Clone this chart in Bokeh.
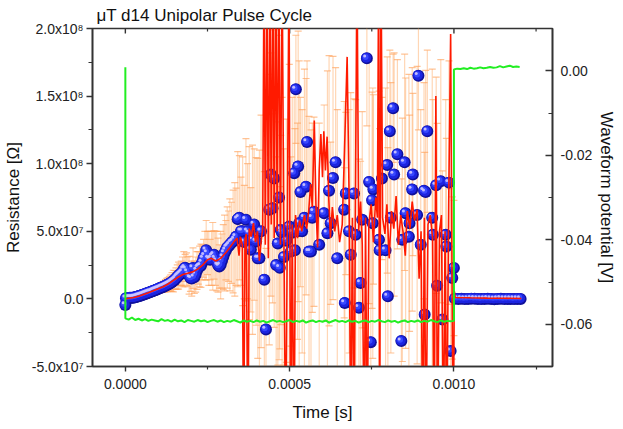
import numpy as np
from bokeh.plotting import figure
from bokeh.models import (Range1d, LinearAxis, FixedTicker, CustomJSTickFormatter,
                          PrintfTickFormatter, ColumnDataSource)
from bokeh.embed import file_html
from bokeh.resources import INLINE

TITLE = "μT d14 Unipolar Pulse Cycle"
X_LABEL = "Time [s]"
Y_LABEL = "Resistance [Ω]"
Y2_LABEL = "Waveform potential [V]"

x_ticks = [0.0, 0.0005, 0.0010]
x_minor = [0.00025, 0.00075, 0.00125]
y_ticks = [-5e7, 0.0, 5e7, 1e8, 1.5e8, 2e8]
y_minor = [-2.5e7, 2.5e7, 7.5e7, 1.25e8, 1.75e8]
y2_ticks = [-0.06, -0.04, -0.02, 0.0]
y2_minor = [-0.07, -0.05, -0.03, -0.01, 0.01]

# Measured resistance: time in microseconds, resistance and error in units of 1e7 ohm
t_ramp = [0, 2, 6, 10, 14, 18, 22, 26, 30, 34,
          38, 42, 46, 50, 54, 58, 62, 66, 70, 74,
          78, 82, 86, 90, 94, 98, 102, 106, 110, 114,
          118, 122, 126, 130, 134, 138, 142, 146, 150, 154,
          158, 162, 166, 170, 174, 178, 182, 186, 190, 194,
          198, 202, 206, 210, 214, 218, 222, 226, 230, 234,
          238, 242, 246, 250, 254, 258, 262, 266, 270, 274,
          278, 282, 286, 290, 294, 298, 302, 306, 310, 314,
          318, 323, 328, 333, 337, 342, 347, 352, 357, 362,
          367, 372, 377, 382, 387, 392, 398, 403, 408, 413]
r_ramp = [-0.45, 0.05, 0.06, 0.07, 0.08, 0.08, 0.09, 0.1, 0.12, 0.15,
          0.18, 0.21, 0.24, 0.28, 0.31, 0.35, 0.38, 0.42, 0.45, 0.49,
          0.52, 0.56, 0.6, 0.64, 0.68, 0.72, 0.76, 0.8, 0.84, 0.88,
          0.92, 0.97, 1.02, 1.07, 1.12, 1.18, 1.25, 1.32, 1.4, 1.5,
          1.62, 1.72, 1.8, 1.9, 2.0, 2.2, 2.3, 2.2, 2.0, 1.75,
          1.55, 1.5, 2.28, 1.6, 1.8, 2.1, 2.3, 2.4, 2.45, 2.7,
          3.0, 3.2, 3.6, 3.4, 3.0, 2.9, 3.0, 3.15, 3.26, 3.0,
          2.8, 2.5, 2.4, 2.5, 2.8, 3.1, 3.4, 3.6, 3.8, 3.9,
          4.0, 4.15, 4.25, 4.4, 4.6, 5.9, 6.0, 5.0, 5.0, 4.2,
          5.85, 5.0, 4.86, 3.63, 4.37, 5.5, 4.25, 3.0, 3.0, 5.0]
e_ramp = [0.15, 0.1, 0.1, 0.1, 0.1, 0.1, 0.1, 0.1, 0.1, 0.1,
          0.12, 0.12, 0.12, 0.15, 0.15, 0.15, 0.15, 0.2, 0.2, 0.2,
          0.2, 0.25, 0.25, 0.25, 0.3, 0.3, 0.3, 0.35, 0.35, 0.4,
          0.4, 0.45, 0.5, 0.5, 0.55, 0.6, 0.7, 0.8, 0.7, 0.8,
          0.9, 1.0, 0.8, 0.9, 1.1, 1.3, 1.0, 1.2, 1.1, 1.4,
          1.0, 1.3, 1.5, 1.2, 1.3, 1.4, 1.2, 1.5, 1.6, 1.3,
          1.4, 1.8, 2.2, 1.6, 2.0, 1.5, 2.0, 2.5, 1.8, 2.0,
          2.2, 2.0, 1.6, 2.5, 2.0, 2.4, 2.8, 2.2, 3.0, 2.6,
          3.4, 3.0, 3.8, 4.2, 3.6, 5.0, 4.6, 4.0, 5.5, 4.2,
          6.0, 5.0, 6.4, 4.6, 7.0, 5.6, 6.2, 7.4, 8.0, 8.6]

t_noisy = [423, 428, 438, 443, 448, 453, 459, 464, 468, 470,
           473, 477, 483, 490, 499, 504, 508, 514, 516, 519,
           524, 526, 529, 533, 538, 545, 550, 553, 559, 565,
           569, 574, 590, 605, 615, 620, 625, 632, 640, 645,
           666, 668, 671, 681, 686, 696, 701, 711, 716, 721,
           735, 742, 747, 751, 753, 755, 772, 774, 781, 792,
           797, 799, 805, 808, 815, 818, 828, 840, 843, 850,
           853, 863, 865, 873, 875, 888, 892, 899, 909, 911,
           914, 919, 934, 936, 946, 949, 960, 965, 975, 977,
           985, 990, 995, 1000]
r_noisy = [1.42, -2.26, 6.6, 9.2, 6.7, 8.9, 2.5, 4.1, 7.5, 2.3,
           5.1, 4.9, 3.1, 4.3, 5.35, 3.5, 4.9, 9.3, 3.6, 15.5,
           5.0, 9.8, 5.6, 7.9, 5.0, 6.0, 8.3, 11.6, 3.5, 3.5,
           6.0, 6.45, 4.0, 6.34, 4.86, 8.0, 5.6, 8.94, 10.1, 3.0,
           6.6, -0.3, 7.8, 5.0, 3.26, 7.8, 4.74, -0.66, 1.18, 5.85,
           17.8, 8.65, -3.2, 7.3, 5.6, 8.1, 4.37, 3.6, 8.9, 3.6,
           9.9, 0.19, 12.4, 6.0, 14.1, 9.2, 10.7, -3.12, 4.37, 10.1,
           6.34, 4.6, 5.6, 8.1, 9.2, 6.2, 16.5, 4.0, 8.0, -1.16,
           7.9, 12.4, 6.0, 4.74, 8.4, 0.98, 8.7, -1.53, 4.74, 3.88,
           8.6, -3.86, 1.55, 2.28]
e_noisy = [8, 6, 10, 9, 7, 11, 8, 9, 12, 6,
           7, 10, 8, 9, 12, 7, 10, 6, 9, 4,
           8, 10, 12, 7, 9, 11, 8, 6, 10, 9,
           7, 7, 9, 8, 12, 10, 6, 9, 7, 11,
           8, 10, 6, 9, 12, 7, 10, 11, 9, 8,
           5, 9, 12, 8, 10, 7, 11, 9, 6, 12,
           8, 11, 6, 10, 4, 9, 7, 12, 9, 8,
           10, 12, 8, 9, 6, 11, 4, 10, 8, 12,
           9, 6, 11, 10, 8, 12, 9, 11, 10, 8,
           9, 12, 6, 5]

t_flat = [1003, 1013, 1023, 1033, 1043, 1053, 1063, 1073, 1083, 1093,
          1103, 1113, 1123, 1133, 1143, 1153, 1163, 1173, 1183, 1193, 1203]
r_flat = [0.02, 0.0, 0.01, -0.01, 0.0, 0.02, 0.01, 0.0, -0.01, 0.0,
          0.01, 0.0, -0.02, 0.0, 0.01, -0.01, 0.0, 0.0, -0.01, 0.0, 0.0]
e_flat = [0.3, 0.2, 0.2, 0.15, 0.15, 0.15, 0.12, 0.12, 0.12, 0.1,
          0.1, 0.1, 0.1, 0.1, 0.1, 0.1, 0.1, 0.1, 0.1, 0.1, 0.1]

# Red smoothed curve: time in microseconds, resistance in 1e7 ohm
t_fit = [0, 10, 25, 40, 55, 70, 85, 100, 115, 130,
         145, 160, 175, 190, 205, 220, 235, 250, 262, 275,
         290, 305, 318, 330, 340, 346, 350, 356, 360, 364,
         368, 373, 377, 383, 390, 396, 402, 408, 412, 418,
         422, 426, 431, 435, 440, 444, 449, 453, 458, 462,
         467, 472, 477, 482, 488, 493, 498, 503, 508, 513,
         518, 524, 530, 537, 545, 552, 558, 564, 569, 575,
         580, 585, 590, 595, 600, 604, 609, 614, 619, 624,
         630, 637, 645, 652, 660, 667, 675, 681, 686, 691,
         696, 700, 705, 710, 716, 721, 727, 731, 736, 741,
         748, 755, 762, 767, 771, 774, 778, 783, 790, 796,
         803, 810, 817, 824, 831, 838, 845, 852, 858, 866,
         873, 880, 888, 894, 900, 905, 910, 915, 921, 928,
         935, 940, 945, 950, 956, 962, 968, 973, 978, 984,
         990, 995, 998, 1001, 1004, 1050, 1100, 1150, 1205]
r_fit = [0.0, 0.05, 0.1, 0.2, 0.33, 0.46, 0.6, 0.75, 0.9, 1.1,
         1.35, 1.6, 1.8, 1.9, 2.0, 2.2, 2.5, 2.9, 3.0, 2.8,
         3.0, 3.4, 3.8, 4.2, 4.5, 3.2, 4.6, 4.0, -12, 4.4,
         4.8, -12, 5.2, 4.6, 5.6, 4.2, 5.0, 2.8, 4.0, 5.2,
         25, 4.0, 25, 3.0, 25, 5.5, 25, 4.5, 25, 5.0,
         25, 4.0, 25, 6.0, -12, 5.0, 25, -12, 5.5, -12,
         6.2, 4.5, 5.8, 5.0, 6.2, 5.2, 6.5, 8.5, 6.8, 13.2,
         7.0, 3.8, 9.5, 12.2, 9.0, 12.4, 9.5, 12.0, 7.5, 4.5,
         6.8, 5.0, 6.2, 4.2, 5.5, 11.0, 17.9, 7.5, -12, 6.0,
         -12, 6.5, 25, 5.0, 7.2, 4.0, -12, 6.0, -12, 5.5,
         7.0, 4.2, 7.5, 6.0, 25, -12, 25, 6.0, 4.8, 7.0,
         3.0, 6.5, 5.2, 7.6, 4.0, 6.2, 5.0, 3.2, 6.5, 5.2,
         7.2, 5.8, 6.6, 1.5, 5.0, -12, 6.0, -12, 5.5, 6.2,
         4.5, -12, 15.0, -12, 5.0, 6.2, -12, 5.0, -12, 7.0,
         19.6, -2.0, -12, 0.6, 0.1, 0.08, 0.06, 0.05, 0.03]

# Waveform potential in volts, sampled every 10 microseconds
v_start = 0.0008
v_low = [-0.0586, -0.0589, -0.0584, -0.0590, -0.0587, -0.0591, -0.0588, -0.0592, -0.0589, -0.0591,
         -0.0593, -0.0588, -0.0592, -0.0590, -0.0594, -0.0589, -0.0593, -0.0591, -0.0595, -0.0590,
         -0.0592, -0.0594, -0.0590, -0.0593, -0.0591, -0.0595, -0.0592, -0.0590, -0.0594, -0.0591,
         -0.0595, -0.0592, -0.0594, -0.0590, -0.0593, -0.0596, -0.0591, -0.0594, -0.0592, -0.0595,
         -0.0591, -0.0594, -0.0592, -0.0596, -0.0593, -0.0590, -0.0594, -0.0592, -0.0595, -0.0593,
         -0.0590, -0.0595, -0.0592, -0.0594, -0.0591, -0.0596, -0.0593, -0.0591, -0.0595, -0.0592,
         -0.0594, -0.0591, -0.0596, -0.0593, -0.0590, -0.0594, -0.0592, -0.0595, -0.0591, -0.0594,
         -0.0592, -0.0596, -0.0593, -0.0591, -0.0595, -0.0592, -0.0594, -0.0590, -0.0593, -0.0595,
         -0.0591, -0.0594, -0.0592, -0.0596, -0.0593, -0.0591, -0.0595, -0.0592, -0.0594, -0.0591,
         -0.0595, -0.0592, -0.0594, -0.0590, -0.0593, -0.0595, -0.0591, -0.0594, -0.0592, -0.0593,
         -0.0592]
v_high = [0.0003, 0.0005, 0.0004, 0.0006, 0.0004, 0.0007, 0.0005, 0.0006, 0.0008, 0.0006,
          0.0007, 0.0009, 0.0007, 0.0008, 0.0011, 0.0008, 0.0010, 0.0012, 0.0009, 0.0010, 0.0009]
v_step_us = 10
v_high_start_us = 1000

US = 1e-6
RU = 1e7

# ---------------------------------------------------------------
t_all = np.array(t_ramp + t_noisy + t_flat, dtype=float) * US
r_all = np.array(r_ramp + r_noisy + r_flat, dtype=float) * RU
e_all = np.array(e_ramp + e_noisy + e_flat, dtype=float) * RU

FW, FH = 460, 338
X0, X1 = -0.0001, 0.0013
Y0, Y1 = -5e7, 2e8
xpp = (X1 - X0) / FW
ypp = (Y1 - Y0) / FH

FONT = "Liberation Sans"
AXC = "#333333"

p = figure(frame_width=FW, frame_height=FH,
           x_range=Range1d(X0, X1), y_range=Range1d(Y0, Y1),
           output_backend="svg", toolbar_location=None,
           min_border_left=89, min_border_right=40, min_border_top=23, min_border_bottom=40,
           background_fill_color="white", border_fill_color="white")
p.extra_y_ranges = {"v": Range1d(-0.07, 0.01)}
p.grid.visible = False
p.outline_line_color = AXC
p.outline_line_width = 1.6

p.title.text = TITLE
p.title.text_font = FONT
p.title.text_font_size = "17px"
p.title.text_font_style = "normal"
p.title.text_color = "#111111"
p.title.offset = 4
p.title.standoff = 7


def style(ax):
    ax.axis_line_color = AXC
    ax.axis_line_width = 1.6
    ax.major_tick_line_color = AXC
    ax.minor_tick_line_color = AXC
    ax.major_tick_line_width = 1.4
    ax.minor_tick_line_width = 1.2
    ax.major_label_text_font = FONT
    ax.major_label_text_font_size = "14px"
    ax.major_label_text_color = "#222222"
    ax.axis_label_text_font = FONT
    ax.axis_label_text_font_size = "17px"
    ax.axis_label_text_font_style = "normal"
    ax.axis_label_text_color = "#111111"


xa = p.xaxis[0]
xa.ticker = FixedTicker(ticks=x_ticks, minor_ticks=x_minor)
xa.formatter = PrintfTickFormatter(format="%.4f")
xa.axis_label = X_LABEL
style(xa)
xa.major_tick_out, xa.major_tick_in = 5, 0
xa.minor_tick_out, xa.minor_tick_in = 3, 0
xa.major_label_standoff = 7
xa.axis_label_standoff = 11

ya = p.yaxis[0]
ya.ticker = FixedTicker(ticks=y_ticks, minor_ticks=y_minor)
ya.formatter = CustomJSTickFormatter(code="""
if (Math.abs(tick) < 1) { return "0.0"; }
const e = Math.floor(Math.log10(Math.abs(tick)) + 1e-9);
const m = tick / Math.pow(10, e);
const sup = ["\u2070","\u00b9","\u00b2","\u00b3","\u2074","\u2075","\u2076","\u2077","\u2078","\u2079"];
return m.toFixed(1) + "x10" + sup[e];
""")
ya.axis_label = Y_LABEL
style(ya)
ya.major_tick_out, ya.major_tick_in = 6, 0
ya.minor_tick_out, ya.minor_tick_in = 4, 0
ya.major_label_standoff = 3
ya.axis_label_standoff = 6

ra = LinearAxis(y_range_name="v", ticker=FixedTicker(ticks=y2_ticks, minor_ticks=y2_minor),
                formatter=PrintfTickFormatter(format="%.2f"), axis_label=Y2_LABEL)
style(ra)
ra.major_tick_out, ra.major_tick_in = 0, 7
ra.minor_tick_out, ra.minor_tick_in = 0, 4
ra.major_label_standoff = 8
ra.axis_label_standoff = 2
p.add_layout(ra, "right")

# inward ticks along the top edge of the frame
tick_len = [5 * ypp] * len(x_ticks)
mtick_len = [3 * ypp] * len(x_minor)
p.segment(x0=x_ticks, y0=[Y1] * len(x_ticks), x1=x_ticks,
          y1=[Y1 - d for d in tick_len], line_color=AXC, line_width=1.4)
p.segment(x0=x_minor, y0=[Y1] * len(x_minor), x1=x_minor,
          y1=[Y1 - d for d in mtick_len], line_color=AXC, line_width=1.2)

src = ColumnDataSource(dict(t=t_all, r=r_all, up=r_all + e_all, lo=r_all - e_all))

# error bars (behind the spheres)
ORANGE = "#ffa35c"
p.segment(x0="t", y0="lo", x1="t", y1="up", source=src, line_color=ORANGE,
          line_alpha=0.45, line_width=1.2)
p.scatter("t", "up", source=src, marker="dash", size=7, line_color=ORANGE,
          line_alpha=0.65, line_width=1.2)
p.scatter("t", "lo", source=src, marker="dash", size=7, line_color=ORANGE,
          line_alpha=0.65, line_width=1.2)

# spheres
p.scatter("t", "r", source=src, size=12, fill_color="#10109a", line_color=None)
p.scatter(t_all - 0.6 * xpp, r_all + 0.6 * ypp, size=10, fill_color="#1c24e0", line_color=None)
p.scatter(t_all - 1.3 * xpp, r_all + 1.3 * ypp, size=6, fill_color="#3848ff", line_color=None)
p.scatter(t_all - 2.2 * xpp, r_all + 2.2 * ypp, size=3, fill_color="#d0c8ff",
          fill_alpha=0.9, line_color=None)

# red curve
p.line(np.array(t_fit, dtype=float) * US, np.array(r_fit, dtype=float) * RU,
       line_color="#ff1a00", line_width=1.6)

# green waveform
t_low = [i * v_step_us for i in range(len(v_low))]
t_high = [v_high_start_us + i * v_step_us for i in range(len(v_high))]
g_t = np.array([0] + t_low + t_high, dtype=float) * US
g_v = [v_start] + v_low + v_high
p.line(g_t, g_v, y_range_name="v", line_color="#22ee22", line_width=2)

open("out.html", "w").write(file_html(p, INLINE))
